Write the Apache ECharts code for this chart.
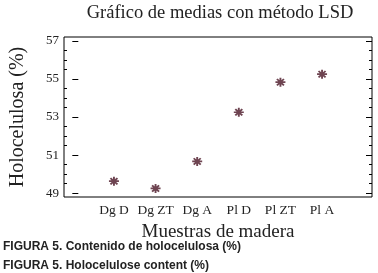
<!DOCTYPE html>
<html><head><meta charset="utf-8">
<script src="https://cdn.jsdelivr.net/npm/echarts@6/dist/echarts.min.js"></script>
<style>html,body{margin:0;padding:0;background:#fff}#c{width:378px;height:273px}</style>
</head><body><div id="c"></div>
<script>
const categories = ['Dg D', 'Dg ZT', 'Dg A', 'Pl D', 'Pl ZT', 'Pl A'];
const means = [49.63, 49.25, 50.67, 53.25, 54.83, 55.25];
const yMajorTicks = [49, 51, 53, 55, 57];
const yMinorTicks = [49.5, 50, 50.5, 51.5, 52, 52.5, 53.5, 54, 54.5, 55.5, 56, 56.5];

const positions = categories.map((c, i) => i + 1);
const data = positions.map((p, i) => [p, means[i]]);
const serif = 'Liberation Serif';
const star = 'path://M0,5L10,5M5,0L5,10M1.5,1.5L8.5,8.5M8.5,1.5L1.5,8.5';

function yAx(pos, ticks, len, labels, name) {
  return {
    type: 'value', min: 48.8, max: 57.2, position: pos,
    axisLine: { show: false },
    splitLine: { show: false },
    axisTick: { show: true, inside: true, length: len, customValues: ticks, lineStyle: { color: '#000', width: 1 } },
    axisLabel: { show: labels, customValues: ticks, color: '#222', fontFamily: serif, fontSize: 13, margin: 5 },
    name: name || '', nameLocation: 'middle', nameGap: 36,
    nameTextStyle: { fontFamily: serif, fontSize: 20, color: '#222' }
  };
}

const chart = echarts.init(document.getElementById('c'));
chart.setOption({
  animation: false,
  title: [
    { text: 'Gráfico de medias con método LSD', left: 220, top: 4, padding: 0, textAlign: 'center',
      textStyle: { fontFamily: serif, fontWeight: 'normal', fontSize: 18.5, color: '#222' } },
    { text: 'FIGURA 5. Contenido de holocelulosa (%)', left: 3, top: 241, padding: 0,
      textStyle: { fontFamily: 'Liberation Sans', fontWeight: 'bold', fontSize: 12, color: '#222' } },
    { text: 'FIGURA 5. Holocelulose content (%)', left: 3, top: 260, padding: 0,
      textStyle: { fontFamily: 'Liberation Sans', fontWeight: 'bold', fontSize: 12, color: '#222' } }
  ],
  grid: { left: 62, right: 6, top: 37, bottom: 76, show: true, borderColor: '#000', borderWidth: 1, backgroundColor: 'transparent' },
  xAxis: {
    type: 'value', min: -0.2, max: 7.2,
    axisLine: { show: false }, axisTick: { show: false }, splitLine: { show: false },
    axisLabel: { customValues: positions, formatter: v => categories[Math.round(v) - 1] || '',
      fontFamily: serif, fontSize: 13.5, color: '#222', margin: 6 },
    name: 'Muestras de madera', nameLocation: 'middle', nameGap: 26,
    nameTextStyle: { fontFamily: serif, fontSize: 19, color: '#222' }
  },
  yAxis: [
    yAx('left', yMajorTicks, 6, true, 'Holocelulosa (%)'),
    yAx('left', yMinorTicks, 3, false),
    yAx('right', yMajorTicks, 6, false),
    yAx('right', yMinorTicks, 3, false)
  ],
  series: [{
    type: 'scatter', data: data, symbol: star, symbolSize: [10, 9],
    itemStyle: { color: '#4a1525', borderColor: '#4a1525', borderWidth: 1.8 }
  }]
});
</script></body></html>
